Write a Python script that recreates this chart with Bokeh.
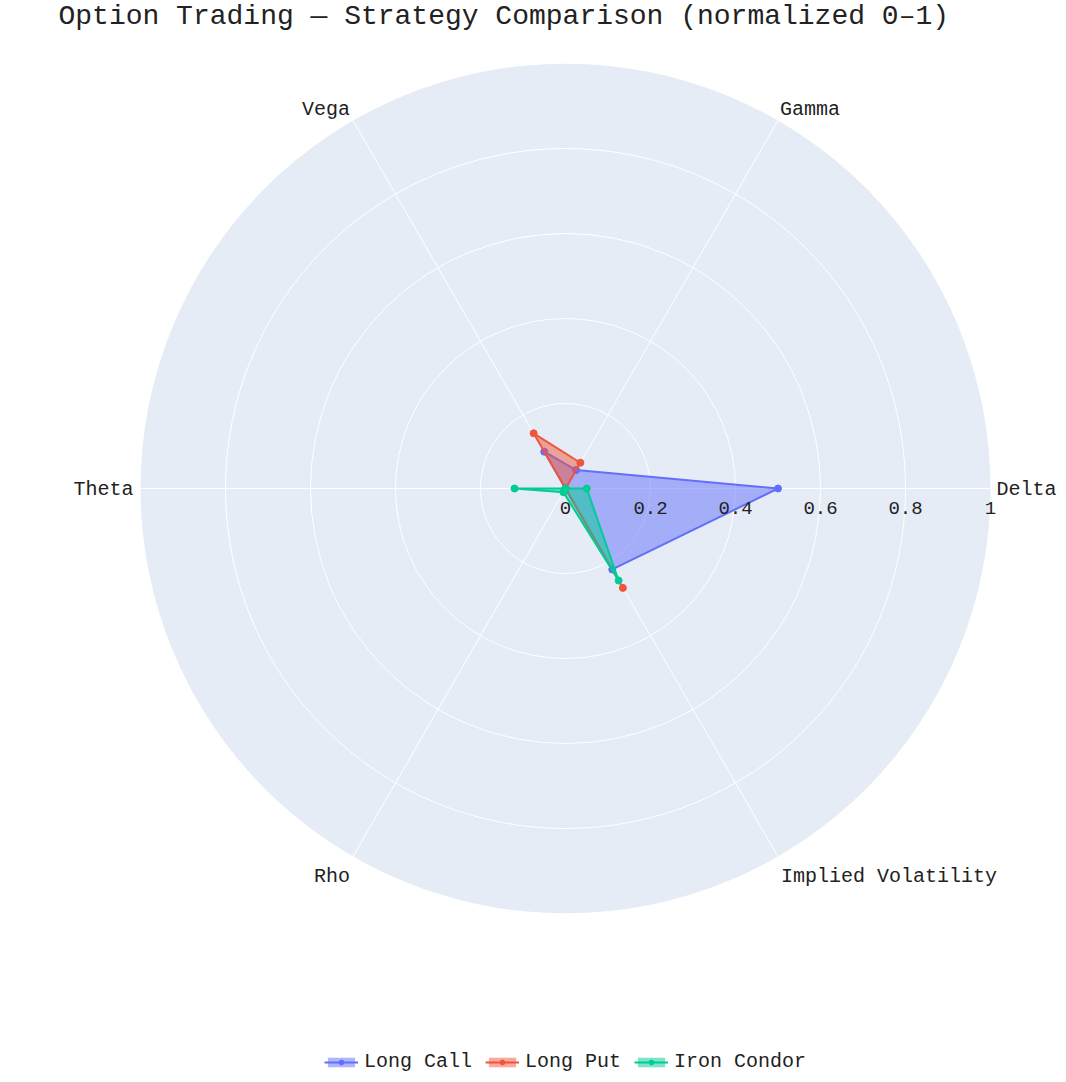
import numpy as np
from bokeh.plotting import figure
from bokeh.models import Range1d, Label, Legend, LegendItem
from bokeh.core.properties import value
from bokeh.embed import file_html
from bokeh.resources import INLINE

# ---- data ----
categories = ["Delta", "Gamma", "Vega", "Theta", "Rho", "Implied Volatility"]
long_call = [0.50, 0.05, 0.10, 0.00, 0.00, 0.22]
long_put = [0.00, 0.07, 0.15, 0.00, 0.00, 0.27]
iron_condor = [0.05, 0.00, 0.00, 0.12, 0.01, 0.25]
series_names = ["Long Call", "Long Put", "Iron Condor"]
tick_values = [0, 0.2, 0.4, 0.6, 0.8, 1.0]
tick_labels = ["0", "0.2", "0.4", "0.6", "0.8", "1"]
title_text = "Option Trading \u2014 Strategy Comparison (normalized 0\u20131)"

# ---- layout ----
W, H = 1058, 1074
CX, CY = 565, 488          # centre in figure pixels (from top-left)
SCALE = 425.0              # pixels per unit radius
FONT = "Liberation Mono"
TXT = "#222222"
colors = ["#636EFA", "#EF553B", "#00CC96"]

p = figure(width=W, height=H, output_backend="svg", toolbar_location=None,
           x_range=Range1d(-CX / SCALE, (W - CX) / SCALE),
           y_range=Range1d(-(H - CY) / SCALE, CY / SCALE),
           min_border=0, match_aspect=False)
p.axis.visible = False
p.grid.visible = False
p.outline_line_color = None
p.background_fill_color = "white"
p.border_fill_color = "white"

n = len(categories)
angles = np.deg2rad(np.arange(n) * 360.0 / n)

# polar background
p.circle(x=[0], y=[0], radius=[1.0], fill_color="#E5ECF6", line_color=None)
# radial grid circles
for r in tick_values[1:-1]:
    p.circle(x=[0], y=[0], radius=[r], fill_color=None, line_color="white", line_width=1)
# spokes
p.segment(x0=np.zeros(n), y0=np.zeros(n), x1=np.cos(angles), y1=np.sin(angles),
          line_color="white", line_width=1)

# series
items = []
for name, vals, col in zip(series_names, [long_call, long_put, iron_condor], colors):
    v = np.array(vals)
    xs = v * np.cos(angles)
    ys = v * np.sin(angles)
    pr = p.patch(x=list(xs), y=list(ys), fill_color=col, fill_alpha=0.5, line_color=None)
    lr = p.line(x=list(xs) + [xs[0]], y=list(ys) + [ys[0]], line_color=col, line_width=2)
    sr = p.scatter(x=xs, y=ys, size=7, fill_color=col, line_color=col)
    items.append(LegendItem(label=name, renderers=[pr, lr, sr]))

# radial tick labels
p.text(x=tick_values, y=[0] * len(tick_values), text=tick_labels,
       text_font=value(FONT), text_font_size="19px", text_color=TXT,
       text_align="center", text_baseline="middle", y_offset=19)

# angular labels
aligns = ["left", "left", "right", "right", "right", "left"]
xoffs = [6, 2, -3, -7, -3, 3]
yoffs = [1, -11, -11, 1, 20, 20]
for i, cat in enumerate(categories):
    p.text(x=[np.cos(angles[i])], y=[np.sin(angles[i])], text=[cat],
           text_font=value(FONT), text_font_size="20px", text_color=TXT,
           text_align=aligns[i], text_baseline="middle",
           x_offset=xoffs[i], y_offset=yoffs[i])

# title
p.add_layout(Label(x=58, y=H - 16, x_units="screen", y_units="screen",
                   text=title_text, text_font=FONT, text_font_size="28px",
                   text_color=TXT, text_baseline="alphabetic"))

legend = Legend(items=items, orientation="horizontal", location=(324, 1),
                glyph_width=34, glyph_height=12, label_height=16,
                label_standoff=6, spacing=13, padding=0, margin=0,
                label_text_font=FONT, label_text_font_size="20px",
                label_text_color=TXT, border_line_color=None,
                background_fill_alpha=0)
p.add_layout(legend)

open("out.html", "w").write(file_html(p, INLINE))
